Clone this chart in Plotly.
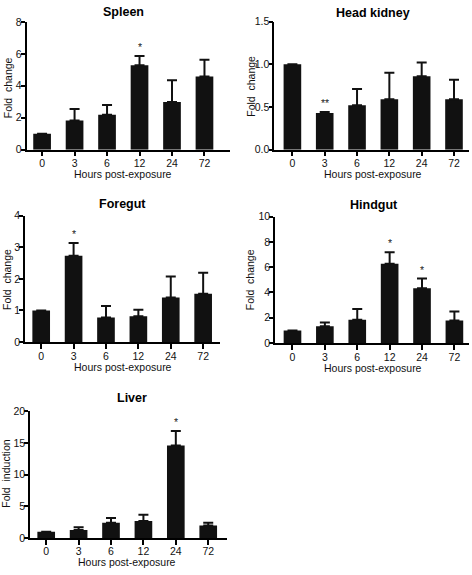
import plotly.graph_objects as go

# ---------------- data ----------------
hours = ["0", "3", "6", "12", "24", "72"]

spleen_mean = [1.0, 1.82, 2.19, 5.28, 2.99, 4.58]
spleen_err = [0.0, 0.73, 0.61, 0.58, 1.36, 1.05]
spleen_sig = ["", "", "", "*", "", ""]

headkidney_mean = [1.0, 0.43, 0.52, 0.59, 0.86, 0.59]
headkidney_err = [0.0, 0.01, 0.19, 0.31, 0.16, 0.23]
headkidney_sig = ["", "**", "", "", "", ""]

foregut_mean = [1.0, 2.73, 0.78, 0.82, 1.41, 1.53]
foregut_err = [0.0, 0.40, 0.36, 0.20, 0.66, 0.66]
foregut_sig = ["", "*", "", "", "", ""]

hindgut_mean = [1.0, 1.33, 1.85, 6.26, 4.33, 1.79]
hindgut_err = [0.0, 0.29, 0.84, 0.92, 0.77, 0.70]
hindgut_sig = ["", "", "", "*", "*", ""]

liver_mean = [1.0, 1.24, 2.42, 2.68, 14.6, 1.96]
liver_err = [0.0, 0.46, 0.72, 0.98, 2.3, 0.46]
liver_sig = ["", "", "", "", "*", ""]

titles = ["Spleen", "Head kidney", "Foregut", "Hindgut", "Liver"]
ytitles = ["Fold\u00a0 change", "Fold\u00a0 change", "Fold\u00a0 change",
           "Fold\u00a0 change", "Fold\u00a0 induction"]
xtitle = "Hours post-exposure"

# ---------------- layout (pixel geometry) ----------------
W, H = 472, 575
FONT = "Liberation Sans, Arial, Helvetica, sans-serif"

panels = [
    dict(m=spleen_mean, e=spleen_err, s=spleen_sig, xpx=(26.5, 230), xr=(-0.48, 5.786),
         ypx=(146.7, 16.3), yr=(0, 8), dt=2, fmt="d",
         tpos=(123.3, 6.5), xtpos=(123.3, 172), ytpos=(7.5, 83.5)),
    dict(m=headkidney_mean, e=headkidney_err, s=headkidney_sig, xpx=(274.3, 468.7), xr=(-0.56, 5.455),
         ypx=(146.7, 16.0), yr=(0, 1.5), dt=0.5, fmt=".1f",
         tpos=(372.7, 7), xtpos=(372.7, 171.7), ytpos=(251, 82.5)),
    dict(m=foregut_mean, e=foregut_err, s=foregut_sig, xpx=(25, 220), xr=(-0.5, 5.52),
         ypx=(343.3, 214), yr=(0, 4), dt=1, fmt="d",
         tpos=(122.8, 202.3), xtpos=(122.8, 368.3), ytpos=(6.7, 279)),
    dict(m=hindgut_mean, e=hindgut_err, s=hindgut_sig, xpx=(275, 469.3), xr=(-0.54, 5.46),
         ypx=(344.3, 215), yr=(0, 10), dt=2, fmt="d",
         tpos=(374.3, 203.3), xtpos=(372.7, 370), ytpos=(250, 280)),
    dict(m=liver_mean, e=liver_err, s=liver_sig, xpx=(30, 226.7), xr=(-0.5, 5.57),
         ypx=(543.3, 414), yr=(0, 20), dt=5, fmt="d",
         tpos=(131.7, 400.7), xtpos=(127.3, 568.3), ytpos=(5.7, 478)),
]

fig = go.Figure()
annotations = []
BAR = "#111111"

for i, (p, title, ytitle) in enumerate(zip(panels, titles, ytitles), start=1):
    xa = "x" if i == 1 else f"x{i}"
    ya = "y" if i == 1 else f"y{i}"
    fig.add_trace(go.Bar(
        x=hours, y=p["m"], xaxis=xa, yaxis=ya,
        marker=dict(color=BAR, line=dict(width=0)),
        error_y=dict(type="data", array=p["e"], symmetric=False,
                     arrayminus=[0] * len(p["e"]), color=BAR,
                     thickness=2, width=5),
        showlegend=False, hoverinfo="skip",
    ))
    common = dict(showline=True, linecolor="black", linewidth=1.6,
                  ticks="outside", tickwidth=1.5, tickcolor="black",
                  showgrid=False, zeroline=False, fixedrange=True,
                  tickfont=dict(family=FONT, size=10.5, color="#111"))
    xkey = "xaxis" if i == 1 else f"xaxis{i}"
    ykey = "yaxis" if i == 1 else f"yaxis{i}"
    fig.update_layout({
        xkey: dict(common, type="category", range=list(p["xr"]), ticklen=5,
                   ticklabelstandoff=-2,
                   domain=[p["xpx"][0] / W, p["xpx"][1] / W], anchor=ya),
        ykey: dict(common, range=list(p["yr"]), dtick=p["dt"], tick0=0,
                   tickformat=p["fmt"], ticklen=4, ticklabelstandoff=-3,
                   domain=[1 - p["ypx"][0] / H, 1 - p["ypx"][1] / H], anchor=xa),
    })
    # significance marks (category index positions)
    for j, (m, e, s) in enumerate(zip(p["m"], p["e"], p["s"])):
        if s:
            annotations.append(dict(x=j, y=m + e, xref=xa, yref=ya, text=s,
                                    showarrow=False, yanchor="middle", yshift=9,
                                    font=dict(family=FONT, size=10.5, color="#222")))
    # titles
    annotations.append(dict(x=p["tpos"][0] / W, y=1 - p["tpos"][1] / H, xref="paper", yref="paper",
                            text=f"<b>{title}</b>", showarrow=False, xanchor="center", yanchor="middle",
                            font=dict(family=FONT, size=12.5, color="black")))
    annotations.append(dict(x=p["xtpos"][0] / W, y=1 - p["xtpos"][1] / H, xref="paper", yref="paper",
                            text=xtitle, showarrow=False, xanchor="center", yanchor="middle",
                            font=dict(family=FONT, size=10.5, color="#111")))
    annotations.append(dict(x=p["ytpos"][0] / W, y=1 - p["ytpos"][1] / H, xref="paper", yref="paper",
                            text=ytitle, showarrow=False, xanchor="center", yanchor="middle",
                            textangle=-90,
                            font=dict(family=FONT, size=10.5, color="#111")))

fig.update_layout(
    width=W, height=H, margin=dict(l=0, r=0, t=0, b=0),
    paper_bgcolor="white", plot_bgcolor="white",
    bargap=0.455, annotations=annotations, showlegend=False,
    font=dict(family=FONT, color="#111"),
)

fig.write_html("out.html", config={"displayModeBar": False},
               post_script="document.body.style.margin='0';document.body.style.padding='0';"
                           "document.documentElement.style.overflow='hidden';")
